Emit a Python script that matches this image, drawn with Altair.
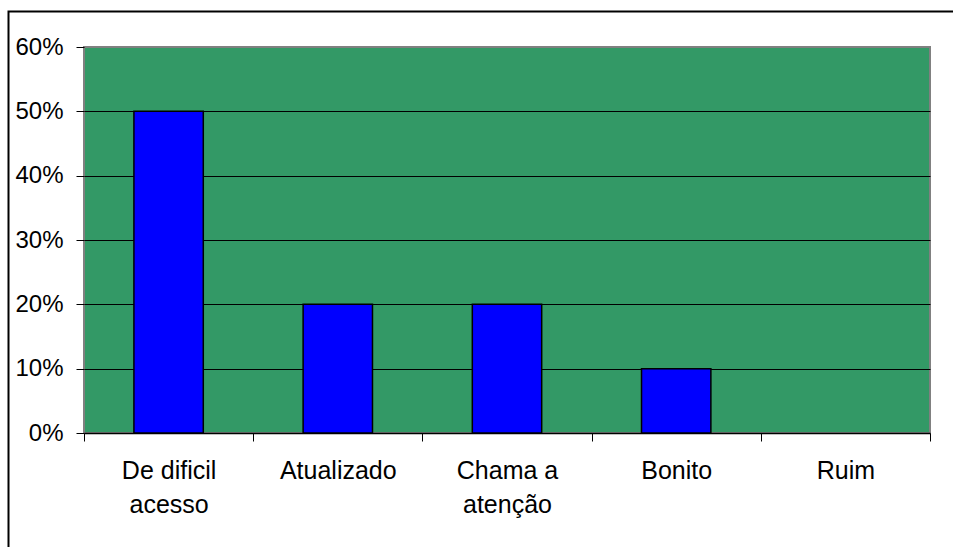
import altair as alt
import pandas as pd

# Survey answers and their shares
categories = ["De dificil\nacesso", "Atualizado", "Chama a\natenção", "Bonito", "Ruim"]
shares = [0.50, 0.20, 0.20, 0.10, 0.00]
y_ticks = [0.0, 0.1, 0.2, 0.3, 0.4, 0.5, 0.6]

df = pd.DataFrame({"categoria": categories, "percentual": shares})

FONT = "Liberation Sans"

x_enc = alt.X(
    "categoria:N",
    sort=categories,
    title=None,
    scale=alt.Scale(paddingInner=0, paddingOuter=0),
    axis=alt.Axis(
        labelAngle=0,
        labelAlign="center",
        labelBaseline="top",
        labelExpr="split(datum.label, '\\n')",
        labelLineHeight=34,
        labelFont=FONT,
        labelFontSize=25,
        labelColor="black",
        labelPadding=17,
        tickBand="extent",
        tickSize=8,
        tickColor="black",
        tickWidth=1,
        domainColor="black",
        domainWidth=1.5,
        grid=False,
    ),
)

y_enc = alt.Y(
    "percentual:Q",
    title=None,
    scale=alt.Scale(domain=[0, 0.6], nice=False),
    axis=alt.Axis(
        values=y_ticks,
        format=".0%",
        labelFont=FONT,
        labelFontSize=24,
        labelColor="black",
        labelPadding=13,
        tickSize=8,
        tickColor="black",
        tickWidth=1,
        domain=False,
        grid=True,
        gridColor="black",
        gridWidth=1,
        gridOpacity={"condition": {"test": "datum.value >= 0.59 || datum.value <= 0.001", "value": 0}, "value": 1},
    ),
)

bars = alt.Chart(df).mark_bar(
    color="#0000FF",
    stroke="black",
    strokeWidth=1.5,
    width=alt.RelativeBandSize(0.41),
).encode(
    x=x_enc,
    y=y_enc,
    strokeOpacity=alt.condition("datum.percentual > 0", alt.value(1), alt.value(0)),
)

# Outer frame around the whole figure (right and bottom edges run off the page)
frame = alt.Chart(pd.DataFrame({"f": [0]})).mark_rect(
    fill=None, stroke="black", strokeWidth=2
).encode(
    x=alt.value(-75.5), x2=alt.value(1000), y=alt.value(-35.5), y2=alt.value(700)
)

chart = alt.layer(frame, bars).properties(
    width=846,
    height=386,
    autosize=alt.AutoSizeParams(type="none"),
    padding={"left": 84, "top": 47, "right": 23, "bottom": 114},
    background="white",
).configure_view(
    fill="#339966",
    stroke="#808080",
    strokeWidth=2,
)

chart.save("out.html", embed_options={"renderer": "svg", "actions": False})
